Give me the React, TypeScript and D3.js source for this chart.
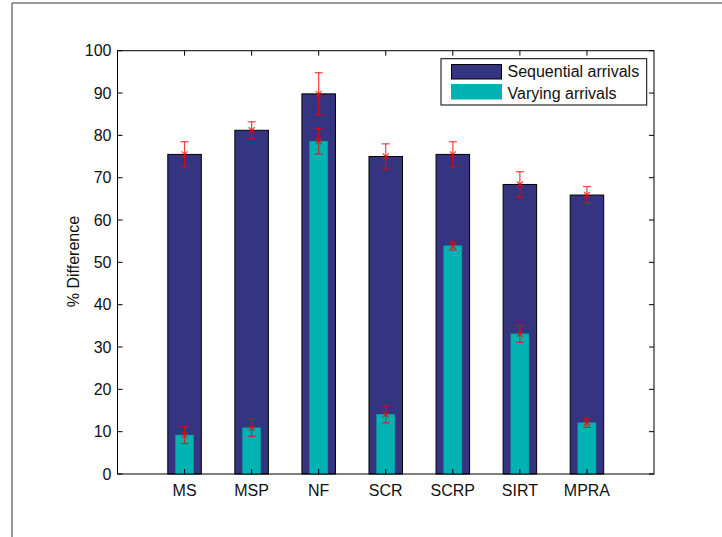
import React from "react";
import * as d3 from "d3";

const categories = ["MS", "MSP", "NF", "SCR", "SCRP", "SIRT", "MPRA"];
const sequential = [75.5, 81.2, 89.8, 75.0, 75.5, 68.4, 65.9];
const sequentialErr = [3.0, 2.0, 5.0, 3.0, 3.0, 3.0, 2.0];
const varying = [9.2, 10.9, 78.6, 14.1, 53.9, 33.1, 12.1];
const varyingErr = [2.0, 2.0, 3.0, 2.0, 1.0, 2.0, 1.1];
const yTicks = [0, 10, 20, 30, 40, 50, 60, 70, 80, 90, 100];
const legendLabels = ["Sequential arrivals", "Varying arrivals"];

const W = 722;
const H = 537;
const left = 117.5;
const right = 654;
const top = 50.7;
const bottom = 474;
const NAVY = "#343480";
const TEAL = "#00b3b3";
const FONT = "'Liberation Sans', Arial, Helvetica, sans-serif";
const FS = 16;

export default function App() {
  const x = d3.scaleLinear().domain([0, categories.length + 1]).range([left, right]);
  const y = d3.scaleLinear().domain([0, 100]).range([bottom, top]);
  const step = x(1) - x(0);
  const wideW = step * 0.5;
  const narrowW = step * 0.27;

  const errBar = (vals: number[], errs: number[], key: string) =>
    vals.map((v, i) => {
      const cx = x(i + 1);
      const y1 = y(v + errs[i]);
      const y2 = y(v - errs[i]);
      const cy = y(v);
      const c = 4;
      const m = 3;
      return (
        <g key={key + i} stroke="#ff0000" strokeOpacity={0.75} strokeWidth={1.2} fill="none">
          <line x1={cx} x2={cx} y1={y1} y2={y2} />
          <line x1={cx - c} x2={cx + c} y1={y1} y2={y1} />
          <line x1={cx - c} x2={cx + c} y1={y2} y2={y2} />
          <line x1={cx - m} x2={cx + m} y1={cy - m} y2={cy + m} />
          <line x1={cx - m} x2={cx + m} y1={cy + m} y2={cy - m} />
        </g>
      );
    });

  return (
    <svg
      width={W}
      height={H}
      style={{ position: "absolute", left: 0, top: 0, background: "#fff" }}
      fontFamily={FONT}
    >
      <rect x={0} y={0} width={W} height={H} fill="#fff" />
      {/* figure border */}
      <line x1={12} x2={W} y1={3} y2={3} stroke="#777" strokeWidth={1.5} />
      <line x1={12} x2={12} y1={3} y2={H} stroke="#777" strokeWidth={1.5} />

      {/* sequential bars */}
      {sequential.map((v, i) => (
        <rect
          key={"s" + i}
          x={x(i + 1) - wideW / 2}
          y={y(v)}
          width={wideW}
          height={y(0) - y(v)}
          fill={NAVY}
          stroke="#000"
          strokeWidth={1}
        />
      ))}
      {/* varying bars */}
      {varying.map((v, i) => (
        <rect
          key={"v" + i}
          x={x(i + 1) - narrowW / 2}
          y={y(v)}
          width={narrowW}
          height={y(0) - y(v)}
          fill={TEAL}
          stroke="#0a9c9c"
          strokeWidth={0.6}
        />
      ))}

      {errBar(sequential, sequentialErr, "es")}
      {errBar(varying, varyingErr, "ev")}

      {/* axes box */}
      <rect x={left} y={top} width={right - left} height={bottom - top} fill="none" stroke="#000" strokeWidth={1} />
      {yTicks.map((t) => (
        <g key={"yt" + t}>
          <line x1={left} x2={left + 5} y1={y(t)} y2={y(t)} stroke="#000" />
          <line x1={right} x2={right - 5} y1={y(t)} y2={y(t)} stroke="#000" />
          <text x={left - 6} y={y(t)} dy="0.36em" textAnchor="end" fontSize={FS} fill="#111">
            {t}
          </text>
        </g>
      ))}
      {categories.map((c, i) => (
        <g key={"xt" + c}>
          <line x1={x(i + 1)} x2={x(i + 1)} y1={top} y2={top + 5} stroke="#000" />
          <line x1={x(i + 1)} x2={x(i + 1)} y1={bottom} y2={bottom - 5} stroke="#000" />
          <text x={x(i + 1)} y={495.5} textAnchor="middle" fontSize={FS} fill="#111">
            {c}
          </text>
        </g>
      ))}

      <text
        transform={`translate(79, 261.5) rotate(-90)`}
        textAnchor="middle"
        fontSize={FS}
        fill="#111"
      >
        % Difference
      </text>

      {/* legend */}
      <rect x={441} y={58.7} width={205.7} height={46.3} fill="#fff" stroke="#000" strokeWidth={1} />
      <rect x={451.5} y={64.5} width={50} height={14.5} fill={NAVY} stroke="#000" strokeWidth={1} />
      <rect x={451} y={84} width={51} height={15.5} fill={TEAL} />
      <text x={507.5} y={77.3} fontSize={FS} fill="#111">
        {legendLabels[0]}
      </text>
      <text x={507.5} y={99} fontSize={FS} fill="#111">
        {legendLabels[1]}
      </text>
    </svg>
  );
}
